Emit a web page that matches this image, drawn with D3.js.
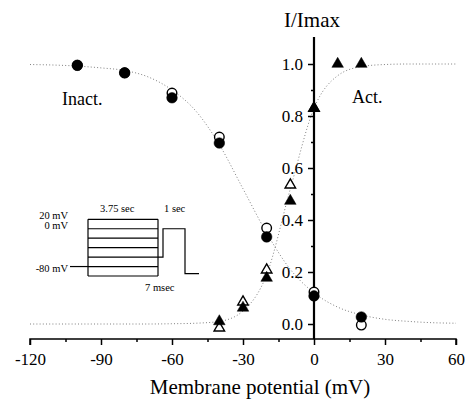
<!DOCTYPE html>
<html><head><meta charset="utf-8">
<script src="https://cdn.jsdelivr.net/npm/d3@7/dist/d3.min.js"></script>
<style>
html,body{margin:0;padding:0;background:#fff;}
svg{display:block;}
</style></head>
<body>
<svg id="chart" width="465" height="401"></svg>
<script>
// ---- data ----
const xTicks = [-120, -90, -60, -30, 0, 30, 60];
const xMinorTicks = [-105, -75, -45, -15, 15, 45];
const yTicks = [0.0, 0.2, 0.4, 0.6, 0.8, 1.0];
const yMinorTicks = [0.1, 0.3, 0.5, 0.7, 0.9];

// Inactivation (circles)
const inactV = [-100, -80, -60, -40, -20, 0, 20];
const inactFilled = [0.995, 0.966, 0.870, 0.696, 0.335, 0.108, 0.027];
const inactOpen = [0.995, 0.966, 0.888, 0.719, 0.369, 0.123, -0.004];

// Activation (triangles)
const actV = [-40, -30, -20, -10, 0, 10, 20];
const actFilled = [0.010, 0.062, 0.177, 0.473, 0.830, 1.0, 1.0];
const actOpen = [-0.015, 0.085, 0.208, 0.535, 0.830, null, null];

// Fitted curves (dotted)
const curveV = [-120, -110, -100, -90, -80, -70, -60, -50, -40, -30, -20, -10, 0, 10, 20, 30, 40, 50, 60];
const inactCurve = [0.998, 0.996, 0.992, 0.985, 0.975, 0.95, 0.90, 0.82, 0.69, 0.52, 0.35, 0.21, 0.12, 0.065, 0.035, 0.018, 0.010, 0.005, 0.003];
const actCurve = [0, 0, 0, 0, 0, 0, 0.001, 0.003, 0.010, 0.050, 0.190, 0.520, 0.830, 0.955, 0.990, 0.998, 1.0, 1.0, 1.0];

// Inset protocol levels (mV)
const insetLevels = [20, 0, -20, -40, -60, -80, -100];

// ---- drawing ----
const FONT = '"Liberation Serif"';
const svg = d3.select("#chart");
const x = d3.scaleLinear().domain([-120, 60]).range([30, 456]);
const y = d3.scaleLinear().domain([0, 1]).range([324, 64]);
const xAxisY = 339, yAxisTop = 37;

// curves
const line = d3.line().x(d => x(d[0])).y(d => y(d[1])).curve(d3.curveMonotoneX);
[inactCurve, actCurve].forEach(c => {
  svg.append("path")
    .attr("d", line(curveV.map((v, i) => [v, c[i]])))
    .attr("fill", "none").attr("stroke", "#808080")
    .attr("stroke-width", 1).attr("stroke-dasharray", "1,2.2");
});

// x axis
const gx = svg.append("g").attr("transform", `translate(0,${xAxisY})`);
gx.call(d3.axisBottom(x).tickValues(xTicks).tickSize(6).tickPadding(8)
  .tickFormat(d => String(d)));
gx.attr("font-family", null);
gx.selectAll(".domain").attr("stroke-width", 1.5).attr("d", `M${x(-120)},6V0H${x(60)}V6`);
gx.selectAll(".tick line").attr("stroke-width", 1.5);
gx.selectAll(".tick text").attr("font-size", 17).attr("fill", "#000").style("font-family", FONT);
const gxm = svg.append("g").attr("transform", `translate(0,${xAxisY})`);
gxm.call(d3.axisBottom(x).tickValues(xMinorTicks).tickSize(3).tickFormat(() => ""));
gxm.select(".domain").remove();
gxm.selectAll(".tick line").attr("stroke-width", 1.5);

// y axis
const gy = svg.append("g").attr("transform", `translate(${x(0)},0)`);
gy.call(d3.axisLeft(y).tickValues(yTicks).tickSize(6).tickPadding(5).tickFormat(d3.format(".1f")));
gy.attr("font-family", null);
gy.select(".domain").attr("d", `M0,${xAxisY}V${yAxisTop}`).attr("stroke-width", 2.2);
gy.selectAll(".tick line").attr("stroke-width", 1.5);
gy.selectAll(".tick text").attr("font-size", 17).attr("fill", "#000").style("font-family", FONT);
const gym = svg.append("g").attr("transform", `translate(${x(0)},0)`);
gym.call(d3.axisLeft(y).tickValues(yMinorTicks).tickSize(3).tickFormat(() => ""));
gym.select(".domain").remove();
gym.selectAll(".tick line").attr("stroke-width", 1.5);

// markers
function circles(vals, filled) {
  svg.append("g").selectAll("circle")
    .data(inactV.map((v, i) => [v, vals[i]]).filter(d => d[1] != null))
    .join("circle")
    .attr("cx", d => x(d[0])).attr("cy", d => y(d[1])).attr("r", filled ? 5.3 : 4.8)
    .attr("fill", filled ? "#000" : "#fff").attr("stroke", "#000").attr("stroke-width", filled ? 0.5 : 1.4);
}
const tri = d3.symbol().type(d3.symbolTriangle);
function triangles(vals, filled) {
  svg.append("g").selectAll("path")
    .data(actV.map((v, i) => [v, vals[i]]).filter(d => d[1] != null))
    .join("path")
    .attr("d", tri.size(filled ? 58 : 48)())
    .attr("transform", d => `translate(${x(d[0])},${y(d[1])})`)
    .attr("fill", filled ? "#000" : "#fff").attr("stroke", "#000").attr("stroke-width", filled ? 0.5 : 1.4);
}
circles(inactOpen, false);
triangles(actOpen, false);
circles(inactFilled, true);
triangles(actFilled, true);

// titles and labels
function label(xp, yp, size, txt, anchor) {
  return svg.append("text").attr("x", xp).attr("y", yp).attr("font-size", size)
    .attr("text-anchor", anchor || "start").attr("fill", "#000")
    .style("font-family", FONT).text(txt);
}
label(312, 27, 21, "I/Imax", "middle");
label(260, 394, 21, "Membrane potential (mV)", "middle");
label(62, 105, 18, "Inact.");
label(352, 103, 18, "Act.");

// inset: voltage protocol
const iy = d3.scaleLinear().domain([20, -100]).range([219.3, 276]);
const ig = svg.append("g").attr("fill", "none").attr("stroke", "#000").attr("stroke-width", 1.2);
const bx0 = 88, bx1 = 158;
insetLevels.forEach(l => {
  ig.append("line").attr("x1", bx0).attr("x2", bx1).attr("y1", iy(l)).attr("y2", iy(l));
});
ig.append("line").attr("x1", bx0).attr("x2", bx0).attr("y1", iy(20)).attr("y2", iy(-100));
ig.append("line").attr("x1", bx1).attr("x2", bx1).attr("y1", iy(20)).attr("y2", iy(-100));
ig.append("line").attr("x1", 70).attr("x2", bx0).attr("y1", iy(-80)).attr("y2", iy(-80));
ig.append("path").attr("d", `M${bx1},${iy(-60)}H163V${iy(0)}H185V${iy(-95)}H199`);
label(68, 219, 10.5, "20 mV", "end");
label(68, 229, 10.5, "0 mV", "end");
label(68, 272, 10.5, "-80 mV", "end");
label(100, 212, 10.5, "3.75 sec");
label(164, 212, 10.5, "1 sec");
label(145, 291, 10.5, "7  msec");
</script>
</body></html>
